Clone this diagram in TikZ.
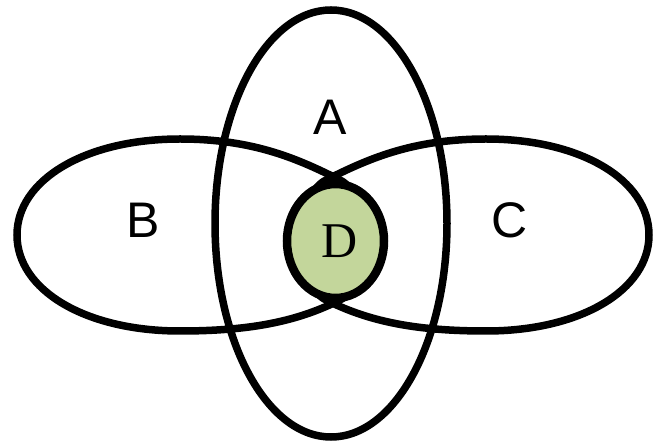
\documentclass[tikz,border=0pt]{standalone}
\usepackage{fontspec}
\setmainfont{Liberation Sans}
\newfontfamily\timesfont{Liberation Serif}
\usepackage{xcolor}
\definecolor{dgreen}{HTML}{C3D69B}

% one side lobe (B); C is its mirror image
\newcommand{\lobepath}{
  (17,235) .. controls (17,180) and (85,139) .. (180,139)
  .. controls (255,139) and (300,160) .. (340,180)
  .. controls (372,196) and (372,284) .. (340,300)
  .. controls (300,320) and (255,331) .. (180,331)
  .. controls (85,331) and (17,290) .. cycle
}

\begin{document}
\begin{tikzpicture}[
  x=1pt, y=-1pt,
  ring/.style={
    draw, line width=7.5pt
  },
  core/.style={
    draw, line width=8.5pt, fill=dgreen
  },
  lbl/.style={
    font=\fontsize{50}{60}\selectfont, inner sep=0pt
  },
]
\useasboundingbox (0,0) rectangle (659,443);

\draw[ring] (331,223.5) ellipse [x radius=116, y radius=213.5];
\draw[ring] \lobepath;
\begin{scope}[xshift=666pt, xscale=-1]
  \draw[ring] \lobepath;
\end{scope}
\draw[core] (335.5,241) ellipse [x radius=48.5, y radius=57];

\node[lbl] (a) at (330,117) {A};
\node[lbl] (b) at (143,220) {B};
\node[lbl] (c) at (510,220) {C};
\node[lbl, font=\timesfont\fontsize{50}{60}\selectfont] (d) at (340,241) {D};

\end{tikzpicture}
\end{document}
